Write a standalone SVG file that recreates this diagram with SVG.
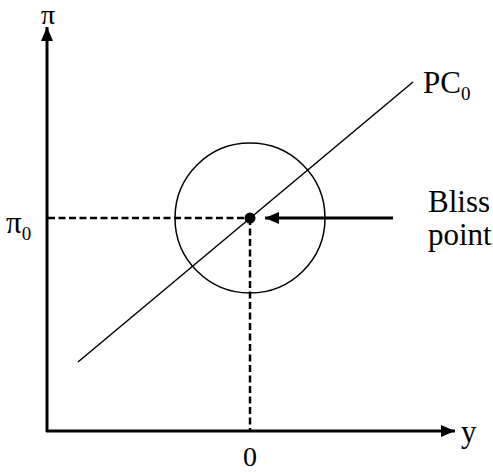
<svg xmlns="http://www.w3.org/2000/svg" width="493" height="473" viewBox="0 0 493 473">
<style>
text{font-family:"Liberation Serif","Times New Roman",serif;font-size:31px;fill:#000}
.sub{font-size:19px}
.edge{font-size:28px}
.ax{stroke:#000;stroke-width:3;fill:none}
.dash{stroke:#000;stroke-width:2.5;stroke-dasharray:7,3.5;fill:none}
.thin{stroke:#000;stroke-width:1.5;fill:none}
</style>
<defs>
<marker id="ah" markerWidth="14" markerHeight="12" refX="14" refY="6" orient="auto" markerUnits="userSpaceOnUse">
<path d="M0,0 L14,6 L0,12 z" fill="#000"/>
</marker>
</defs>
<g id="connectors">
<path class="ax" d="M47,432 L47,27" marker-end="url(#ah)"/>
<path class="ax" d="M46,431 L455,431" marker-end="url(#ah)"/>
<path class="dash" d="M48,218 L250,218"/>
<path class="dash" d="M250,218 L250,430"/>
<path class="thin" d="M78,362 L413,82"/>
<path class="ax" d="M393,218 L265,218" stroke-width="2.5" marker-end="url(#ah)"/>
</g>
<g id="circle"><circle class="thin" cx="250" cy="218" r="75"/></g>
<g id="bliss-dot"><circle cx="250" cy="218" r="5.5" fill="#000"/></g>
<g id="labels">
<text class="edge" x="41" y="24">π</text>
<text x="6" y="233">π<tspan class="sub" dy="7">0</tspan></text>
<text x="423" y="93">PC<tspan class="sub" dy="7">0</tspan></text>
<text x="428" y="212">Bliss</text>
<text x="428" y="245">point</text>
<text class="edge" x="243" y="466">0</text>
<text x="461" y="442">y</text>
</g>
</svg>
